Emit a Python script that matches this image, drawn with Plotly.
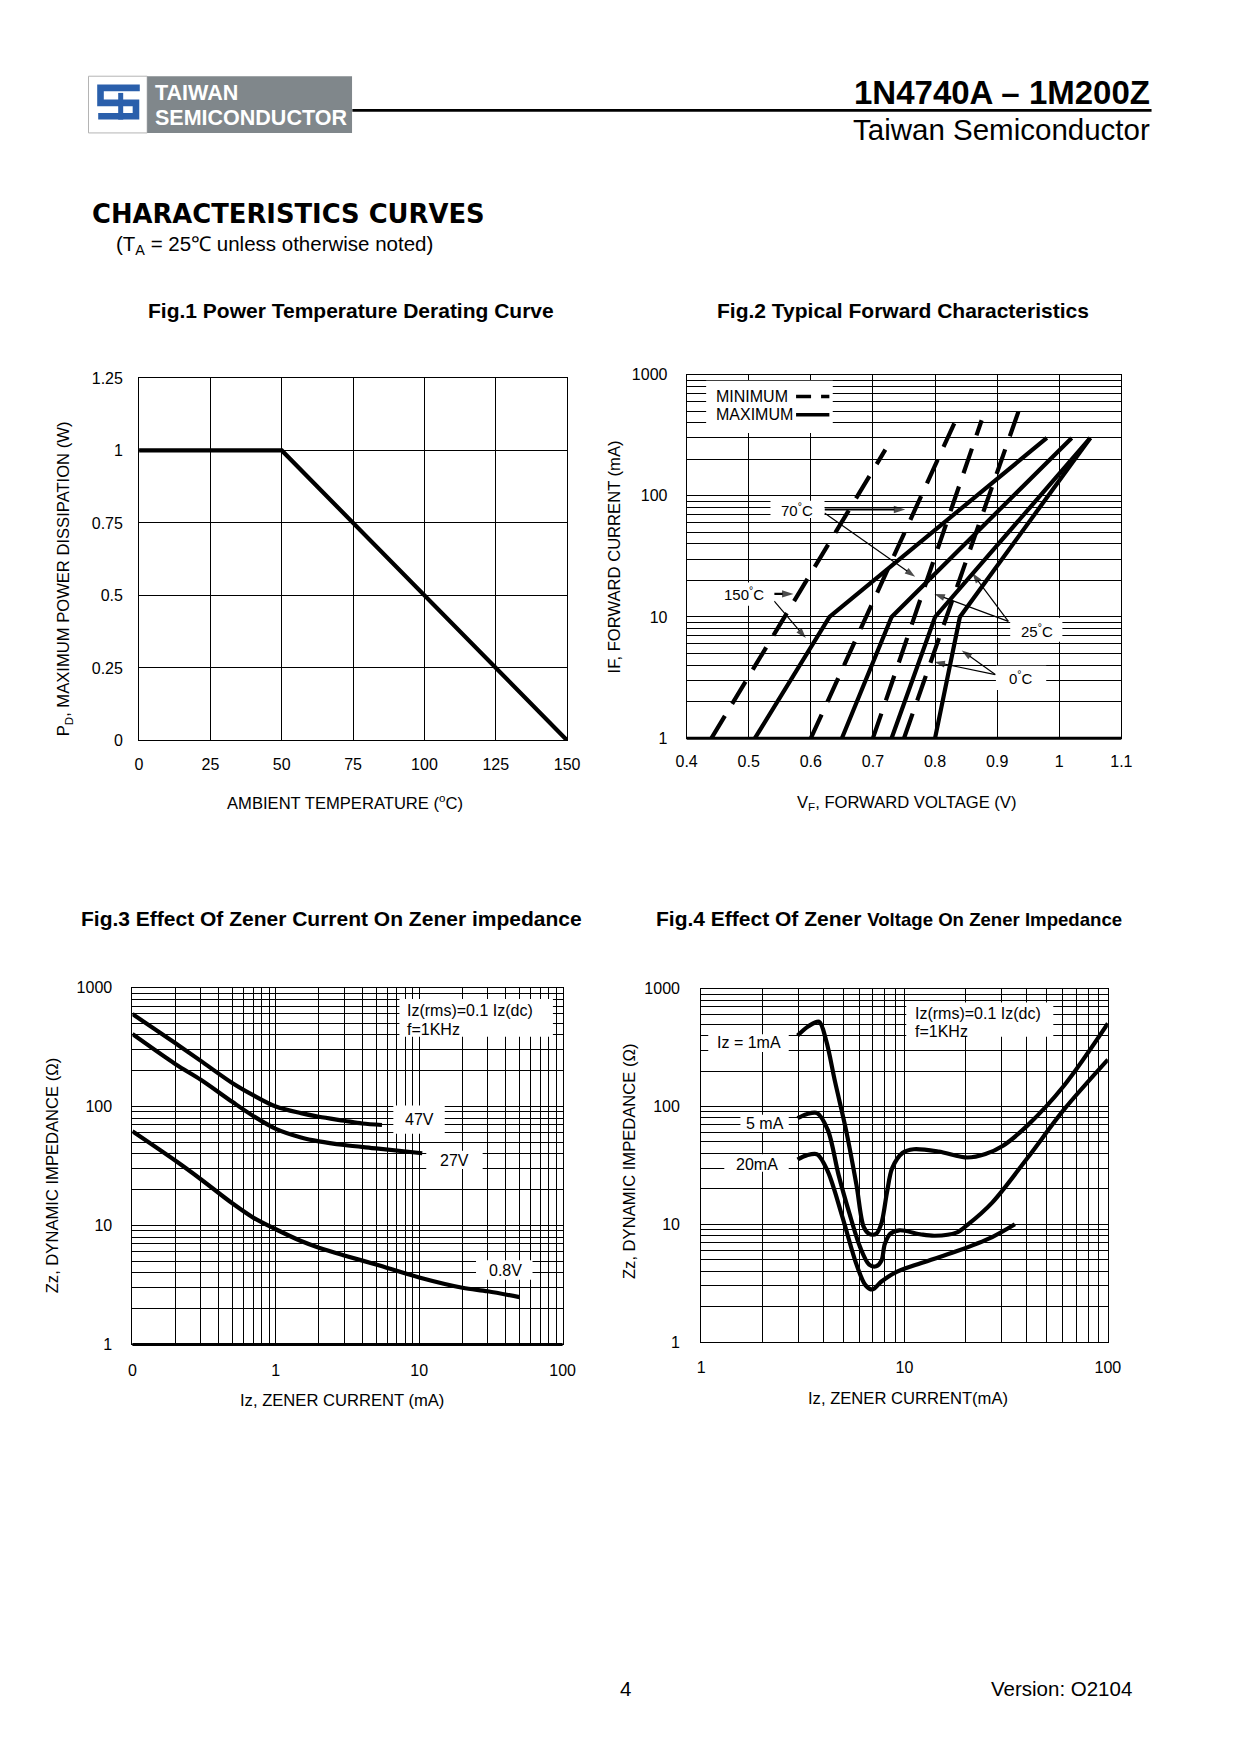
import math
import plotly.graph_objects as go

# Window positions below are measured on the reference page. The photographed
# page maps figure pixels onto the window with a small scale and offset, which
# is undone here so that every item lands where the reference has it.
PAGE_W, PAGE_H = 1240, 1754
OFF = 8
W, H = PAGE_W - 2 * OFF, PAGE_H - 2 * OFF
SX, AX = 0.981, 10.6
SY, AY = 0.9898, 8.2
SANS = "Liberation Sans, Arial, Helvetica, sans-serif"
WIDE = "DejaVu Sans, Verdana, sans-serif"


def px(v):
    return ((v - AX) / SX - OFF) / W


def py(v):
    return 1 - ((v - AY) / SY - OFF) / H


def lg(v):
    return math.log10(v)


# ---------------- Fig.1 data ----------------
fig1_temp_c = [0, 50, 150]
fig1_power_w = [1.0, 1.0, 0.0]
fig1_xtick_vals = [0, 25, 50, 75, 100, 125, 150]
fig1_ytick_vals = [0, 0.25, 0.5, 0.75, 1.0, 1.25]
fig1_ytick_text = ["0", "0.25", "0.5", "0.75", "1", "1.25"]

# ---------------- Fig.2 data (VF in V, IF in mA) ----------------
fig2_vf_max_150c = [0.51, 0.63, 0.98]
fig2_if_max_150c = [1, 10, 300]
fig2_vf_max_70c = [0.65, 0.73, 1.02]
fig2_if_max_70c = [1, 10, 300]
fig2_vf_max_25c = [0.73, 0.80, 1.05]
fig2_if_max_25c = [1, 10, 300]
fig2_vf_max_0c = [0.80, 0.84, 1.05]
fig2_if_max_0c = [1, 10, 300]
fig2_vf_min_150c = [0.44, 0.72]
fig2_if_min_150c = [1, 240]
fig2_vf_min_70c = [0.60, 0.84]
fig2_if_min_70c = [1, 500]
fig2_vf_min_25c = [0.70, 0.875]
fig2_if_min_25c = [1, 420]
fig2_vf_min_0c = [0.75, 0.94]
fig2_if_min_0c = [1, 600]
fig2_xtick_vals = [0.4, 0.5, 0.6, 0.7, 0.8, 0.9, 1.0, 1.1]
fig2_xtick_text = ["0.4", "0.5", "0.6", "0.7", "0.8", "0.9", "1", "1.1"]
log_tick_vals = [1, 10, 100, 1000]
log_tick_text = ["1", "10", "100", "1000"]

# ---------------- Fig.3 data (Iz mA, Zz ohm) ----------------
fig3_iz_47v = [0.1, 0.2, 0.3, 0.5, 0.7, 1.0, 1.5, 2, 3, 4, 5.5]
fig3_zz_47v = [600, 340, 242, 157, 124, 100, 88, 82, 76, 72, 70]
fig3_iz_27v = [0.1, 0.2, 0.3, 0.5, 0.7, 1.0, 1.5, 2, 3, 5, 10.5]
fig3_zz_27v = [407, 227, 168, 109, 83, 65, 55, 51, 47.5, 44.5, 40.5]
fig3_iz_08v = [0.1, 0.2, 0.3, 0.5, 0.7, 1.0, 1.5, 2, 3, 5, 10, 20, 30, 50]
fig3_zz_08v = [62, 35, 24.5, 15.3, 11.6, 9.3, 7.4, 6.5, 5.6, 4.7, 3.66, 3.0, 2.8, 2.5]
fig3_xtick_vals = [0.1, 1, 10, 100]
fig3_xtick_text = ["0", "1", "10", "100"]

# ---------------- Fig.4 data (Iz mA, Zz ohm) ----------------
fig4_iz_1ma = [2.98, 3.37, 3.8, 4.12, 4.56, 5.16, 5.81, 6.3, 6.7, 7.25, 7.7, 8.2, 8.7,
               9.8, 11.1, 14.7, 20.4, 25, 30.5, 40.4, 60.8, 100]
fig4_zz_1ma = [400, 480, 524, 362, 161, 63, 21.4, 9.5, 8.3, 8.3, 10.2, 18.7, 30,
               40.5, 43.4, 41.5, 36.9, 39.5, 46.5, 69.5, 150, 507]
fig4_iz_5ma = [2.98, 3.3, 3.72, 4.2, 4.74, 5.35, 6.05, 6.7, 7.25, 7.7, 8.0, 8.5, 9.44,
               12.1, 14.1, 18, 20.4, 27, 40.4, 60.8, 100]
fig4_zz_5ma = [79.6, 86, 88, 63, 26.3, 12.5, 6.4, 4.55, 4.4, 4.9, 6.8, 8.3, 8.9,
               8.2, 8.0, 8.5, 9.9, 15.3, 36.9, 94, 250]
fig4_iz_20ma = [2.98, 3.3, 3.72, 4.2, 4.94, 5.81, 6.43, 6.96, 7.7, 9.0, 12.1, 18, 27, 34.9]
fig4_zz_20ma = [35.5, 38.5, 39.3, 28, 11.7, 4.55, 3.04, 2.8, 3.27, 3.9, 4.7, 5.9, 7.8, 10.0]
fig4_xtick_vals = [1, 10, 100]
fig4_xtick_text = ["1", "10", "100"]

# Fig.2 pointer arrows: (head V, head mA, tail V, tail mA, line width, head size)
fig2_arrows = [
    (0.752, 77, 0.622, 77, 2.2, 12),
    (0.768, 21.5, 0.622, 72, 1.2, 11),
    (0.572, 15.5, 0.541, 15.5, 2.2, 12),
    (0.592, 6.7, 0.541, 13.5, 1.2, 11),
    (0.799, 15.5, 0.918, 9.2, 1.2, 11),
    (0.860, 23.0, 0.918, 9.2, 1.2, 11),
    (0.799, 4.25, 0.897, 3.35, 1.2, 11),
    (0.843, 5.3, 0.897, 3.35, 1.2, 11),
]

# plot boxes in window pixels: left, right, top, bottom
P1 = (138.6, 566.9, 377.9, 740.2)
P2 = (686.5, 1121.5, 374.5, 738.0)
P3 = (131.9, 562.4, 987.3, 1344.0)
P4 = (701.0, 1108.0, 988.4, 1341.7)


def minor_vals(e0, e1):
    return [m * 10.0 ** e for e in range(e0, e1) for m in range(2, 10)]


def axis(box, horizontal, **kw):
    l, r, t, b = box
    d = dict(showgrid=True, gridcolor="black", gridwidth=1, showline=True,
             linecolor="black", linewidth=1, mirror=True, zeroline=False,
             ticks="outside", tickcolor="rgba(0,0,0,0)", tickmode="array",
             tickfont=dict(family=SANS, size=16, color="black"), fixedrange=True)
    d["domain"] = [px(l), px(r)] if horizontal else [py(b), py(t)]
    d.update(kw)
    return d


def log_minor(e0, e1):
    return dict(tickmode="array", tickvals=minor_vals(e0, e1), showgrid=True,
                gridcolor="black", gridwidth=1, ticks="")


fig = go.Figure()


def add_line(n, x, y, width=4.2, dash=None, smooth=False):
    suffix = "" if n == 1 else str(n)
    line = dict(color="black", width=width)
    if dash:
        line["dash"] = dash
    if smooth:
        line["shape"] = "spline"
        line["smoothing"] = 0.9
    fig.add_trace(go.Scatter(x=x, y=y, mode="lines", xaxis="x" + suffix, yaxis="y" + suffix,
                             line=line, hoverinfo="skip", showlegend=False))


add_line(1, fig1_temp_c, fig1_power_w)

DASH = "26px,14px"
for xv, yv in [(fig2_vf_max_150c, fig2_if_max_150c), (fig2_vf_max_70c, fig2_if_max_70c),
               (fig2_vf_max_25c, fig2_if_max_25c), (fig2_vf_max_0c, fig2_if_max_0c)]:
    add_line(2, xv, yv)
for xv, yv in [(fig2_vf_min_150c, fig2_if_min_150c), (fig2_vf_min_70c, fig2_if_min_70c),
               (fig2_vf_min_25c, fig2_if_min_25c), (fig2_vf_min_0c, fig2_if_min_0c)]:
    add_line(2, xv, yv, dash=DASH)

add_line(3, fig3_iz_47v, fig3_zz_47v, smooth=True)
add_line(3, fig3_iz_27v, fig3_zz_27v, smooth=True)
add_line(3, fig3_iz_08v, fig3_zz_08v, smooth=True)

add_line(4, fig4_iz_1ma, fig4_zz_1ma, smooth=True)
add_line(4, fig4_iz_5ma, fig4_zz_5ma, smooth=True)
add_line(4, fig4_iz_20ma, fig4_zz_20ma, smooth=True)

for hx, hy, tx, ty, w, s in fig2_arrows:
    fig.add_trace(go.Scatter(x=[tx, hx], y=[ty, hy], mode="lines+markers", xaxis="x2",
                             yaxis="y2", line=dict(color="black", width=w),
                             marker=dict(symbol="arrow", size=[0, s], angleref="previous",
                                         color="black", line=dict(width=0)),
                             hoverinfo="skip", showlegend=False))

layout = dict(
    width=W, height=H, margin=dict(l=0, r=0, t=0, b=0),
    paper_bgcolor="white", plot_bgcolor="white", showlegend=False,
    font=dict(family=SANS, color="black"),
    xaxis=axis(P1, True, anchor="y", range=[0, 150], tickvals=fig1_xtick_vals, ticklen=9),
    yaxis=axis(P1, False, anchor="x", range=[0, 1.25], tickvals=fig1_ytick_vals,
               ticktext=fig1_ytick_text, ticklen=12),
    xaxis2=axis(P2, True, anchor="y2", range=[0.4, 1.1], tickvals=fig2_xtick_vals,
                ticktext=fig2_xtick_text, ticklen=9),
    yaxis2=axis(P2, False, anchor="x2", type="log", range=[0, 3], tickvals=log_tick_vals,
                ticktext=log_tick_text, ticklen=15, minor=log_minor(0, 3)),
    xaxis3=axis(P3, True, anchor="y3", type="log", range=[-1, 2], tickvals=fig3_xtick_vals,
                ticktext=fig3_xtick_text, ticklen=11, minor=log_minor(-1, 2)),
    yaxis3=axis(P3, False, anchor="x3", type="log", range=[0, 3], tickvals=log_tick_vals,
                ticktext=log_tick_text, ticklen=16, minor=log_minor(0, 3)),
    xaxis4=axis(P4, True, anchor="y4", type="log", range=[0, 2], tickvals=fig4_xtick_vals,
                ticktext=fig4_xtick_text, ticklen=11, minor=log_minor(0, 2)),
    yaxis4=axis(P4, False, anchor="x4", type="log", range=[0, 3], tickvals=log_tick_vals,
                ticktext=log_tick_text, ticklen=17, minor=log_minor(0, 3)),
)

shapes = []


def white_box(n, x0, x1, y0, y1):
    shapes.append(dict(type="rect", xref="x%d" % n, yref="y%d" % n,
                       x0=x0, x1=x1, y0=y0, y1=y1,
                       fillcolor="white", line=dict(width=0), layer="above"))


for b in [(0.4314, 0.6353, 330, 890), (0.535, 0.622, 65.6, 90.9), (0.437, 0.541, 12.4, 19.2),
          (0.921, 1.005, 6.24, 9.85), (0.898, 0.979, 2.5, 3.95)]:
    white_box(2, *b)
for b in [(7.28, 85.6, 386, 803), (6.6, 15.07, 59.1, 102), (11.2, 27.7, 29.8, 42.5),
          (24.9, 61.7, 3.5, 5.1)]:
    white_box(3, *b)
for b in [(10.2, 53.9, 390, 765), (1.084, 2.696, 290, 410), (1.56, 2.696, 60.9, 85),
          (1.30, 2.696, 28, 39.4)]:
    white_box(4, *b)

for n in (2, 3):
    shapes.append(dict(type="line", xref="x%d domain" % n, yref="y%d domain" % n,
                       x0=0, x1=1, y0=0, y1=0, line=dict(color="black", width=3)))

shapes.append(dict(type="line", xref="x2", yref="y2", x0=0.5762, x1=0.6298,
                   y0=660, y1=660, line=dict(color="black", width=3.5, dash="15px,10px")))
shapes.append(dict(type="line", xref="x2", yref="y2", x0=0.5762, x1=0.6298,
                   y0=466, y1=466, line=dict(color="black", width=3.5)))

shapes.append(dict(type="line", xref="paper", yref="paper", x0=px(352), x1=px(1151.7),
                   y0=py(110.5), y1=py(110.5), line=dict(color="black", width=2.7)))
shapes.append(dict(type="rect", xref="paper", yref="paper", x0=px(88), x1=px(146.7),
                   y0=py(133), y1=py(76.3), fillcolor="white",
                   line=dict(color="#b4b4b4", width=1)))
shapes.append(dict(type="rect", xref="paper", yref="paper", x0=px(146.7), x1=px(351.7),
                   y0=py(133), y1=py(76.3), fillcolor="#80878b", line=dict(width=0)))
s_pts = [(139.3, 88), (100, 88), (100, 103), (135.5, 103), (135.5, 116.4), (97.7, 116.4)]
path = "M " + " L ".join("%.5f,%.5f" % (px(a), py(b)) for a, b in s_pts)
shapes.append(dict(type="path", xref="paper", yref="paper", path=path,
                   line=dict(color="#2a5fab", width=6.6)))
shapes.append(dict(type="rect", xref="paper", yref="paper", x0=px(117.7), x1=px(122.7),
                   y0=py(119.7), y1=py(93), fillcolor="#2a5fab", line=dict(width=0)))
layout["shapes"] = shapes

anns = []


def text(t, x, y, size=16, xanchor="center", yanchor="middle", bold=False, family=SANS,
         color="black", angle=0, xref="paper", yref="paper"):
    if bold:
        t = "<b>" + t + "</b>"
    anns.append(dict(text=t, x=x, y=y, xref=xref, yref=yref, xanchor=xanchor,
                     yanchor=yanchor, showarrow=False, textangle=angle,
                     font=dict(family=family, size=size, color=color)))


AT = 16.6  # axis title size
text("1N4740A – 1M200Z", px(1152), py(93), size=33, xanchor="right", bold=True)
text("Taiwan Semiconductor", px(1152), py(130), size=29.5, xanchor="right")
text("TAIWAN", px(152.5), py(93), size=21.5, xanchor="left", bold=True, color="white")
text("SEMICONDUCTOR", px(152.5), py(118), size=21.5, xanchor="left", bold=True,
     color="white")
text("CHARACTERISTICS CURVES", px(89.4), py(213.6), size=25.8, xanchor="left", bold=True,
     family=WIDE)
text("(T<sub>A</sub> = 25℃ unless otherwise noted)", px(114), py(244.9), size=20.5,
     xanchor="left")

text("Fig.1 Power Temperature Derating Curve", px(350.5), py(310.8), size=21, bold=True)
text("Fig.2 Typical Forward Characteristics", px(903.4), py(310.8), size=21, bold=True)
text("Fig.3 Effect Of Zener Current On Zener impedance", px(331), py(918), size=21, bold=True)
text("Fig.4 Effect Of Zener <span style='font-size:18.6px'>Voltage On Zener Impedance</span>",
     px(889.4), py(918), size=21, bold=True)

text("AMBIENT TEMPERATURE (<sup>o</sup>C)", px(344.4), py(801.7), size=AT)
text("P<sub>D</sub>, MAXIMUM POWER DISSIPATION (W)", px(63.7), py(579), size=AT, angle=-90)
text("V<sub>F</sub>, FORWARD VOLTAGE (V)", px(906.8), py(802.8), size=AT)
text("IF, FORWARD CURRENT (mA)", px(613.8), py(556.3), size=AT, angle=-90)
text("Iz, ZENER CURRENT (mA)", px(342), py(1400), size=AT)
text("Zz, DYNAMIC IMPEDANCE (Ω)", px(51.4), py(1175), size=AT, angle=-90)
text("Iz, ZENER CURRENT(mA)", px(908), py(1397.6), size=AT)
text("Zz, DYNAMIC IMPEDANCE (Ω)", px(629.5), py(1161), size=AT, angle=-90)

text("4", px(625), py(1688), size=20.5)
text("Version: O2104", px(989.5), py(1688), size=20.5, xanchor="left")

text("MINIMUM", 0.4447, lg(660), size=16, xanchor="left", xref="x2", yref="y2")
text("MAXIMUM", 0.4447, lg(466), size=16, xanchor="left", xref="x2", yref="y2")
text("70<sup>°</sup>C", 0.578, lg(77), size=15, xref="x2", yref="y2")
text("150<sup>°</sup>C", 0.492, lg(15.5), size=15, xref="x2", yref="y2")
text("25<sup>°</sup>C", 0.9645, lg(7.8), size=15, xref="x2", yref="y2")
text("0<sup>°</sup>C", 0.9386, lg(3.14), size=15, xref="x2", yref="y2")

text("Iz(rms)=0.1 Iz(dc)", lg(7.9), lg(636), xanchor="left", xref="x3", yref="y3")
text("f=1KHz", lg(7.9), lg(441), xanchor="left", xref="x3", yref="y3")
text("47V", lg(10), lg(78), xref="x3", yref="y3")
text("27V", lg(17.7), lg(35.1), xref="x3", yref="y3")
text("0.8V", lg(39.7), lg(4.2), xref="x3", yref="y3")

text("Iz(rms)=0.1 Iz(dc)", lg(11.0), lg(620), xanchor="left", xref="x4", yref="y4")
text("f=1KHz", lg(11.0), lg(434), xanchor="left", xref="x4", yref="y4")
text("Iz = 1mA", lg(1.727), lg(350), xref="x4", yref="y4")
text("5 mA", lg(2.06), lg(72), xref="x4", yref="y4")
text("20mA", lg(1.888), lg(32), xref="x4", yref="y4")

layout["annotations"] = anns
fig.update_layout(**layout)

fig.write_html("out.html", config={"displayModeBar": False})
